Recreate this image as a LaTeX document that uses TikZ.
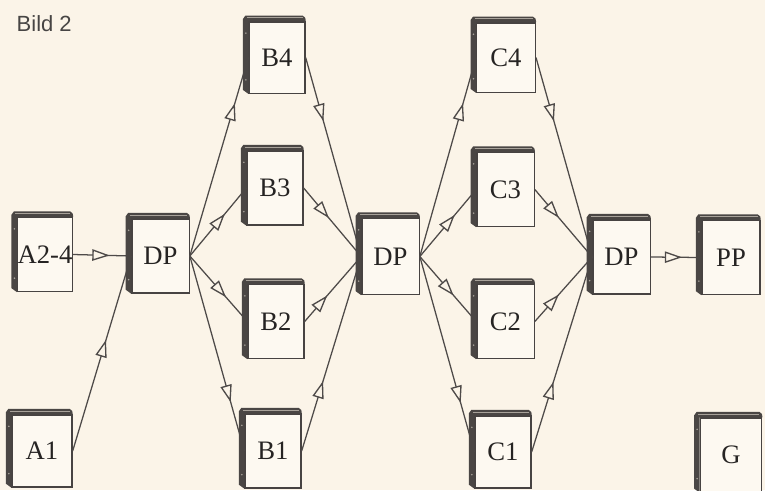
\documentclass[tikz,border=0pt]{standalone}
\usepackage{fontspec}
\setmainfont{Liberation Serif}
\newfontfamily\labelsans{Liberation Sans}
\usetikzlibrary{arrows.meta,decorations.markings,calc}
\definecolor{bgc}{HTML}{FBF4E8}
\definecolor{facec}{HTML}{FDF9F1}
\definecolor{edgec}{HTML}{474342}
\definecolor{spinec}{HTML}{4A4644}
\definecolor{linec}{HTML}{4E4A49}
\definecolor{textc}{HTML}{262423}
\definecolor{dotc}{HTML}{A8A29A}
\tikzset{
  tipA/.tip={Triangle[length=13pt,width=8.5pt,line width=1pt,fill=bgc,color=linec]},
  book/.style={draw=edgec, line width=1pt, fill=facec, inner sep=0pt,
    minimum width=42pt, minimum height=55.5pt, text=textc,
    font=\fontsize{20}{21}\selectfont},
  conn/.style={draw=linec, line width=0.95pt},
  flow/.style={postaction={decorate, decoration={markings,
    mark=at position #1 with {\arrow{tipA}}}}}
}
\begin{document}
\begin{tikzpicture}[x=0.75pt,y=-0.75pt]
\fill[bgc] (0,0) rectangle (765,490);
\useasboundingbox (0,0) rectangle (765,490);
\node[text=textc!85, font=\labelsans\fontsize{16.5}{18}\selectfont, anchor=base west] (title) at (12,31) {Bild 2};
% books
\node[book, minimum width=40.5pt] (a24) at (45,254.5) {A2-4};
\node[book, minimum width=45pt, minimum height=54pt] (a1) at (42,451) {A1};
\node[book, minimum width=43pt] (dp1) at (160.5,256) {DP};
\node[book, minimum height=53.5pt] (b4) at (277,57.5) {B4};
\node[book] (b3) at (275,188) {B3};
\node[book] (b2) at (276,321.5) {B2};
\node[book] (b1) at (273,451) {B1};
\node[book, minimum width=43pt, minimum height=57pt] (dp2) at (390.5,256.5) {DP};
\node[book, minimum width=44pt, minimum height=52pt] (c4) at (506,57.5) {C4};
\node[book, minimum width=43pt] (c3) at (505.5,189.5) {C3};
\node[book, minimum width=43pt] (c2) at (505.5,321.5) {C2};
\node[book, minimum height=54pt] (c1) at (503,452) {C1};
\node[book, minimum width=43pt] (dp3) at (621.5,257) {DP};
\node[book, minimum width=43.5pt] (pp) at (731,257.5) {PP};
\node[book, minimum width=46pt] (g) at (731,455) {G};
% connectors
\draw[conn, flow=0.63] (a24.east) -- (dp1.west);
\draw[conn, flow=0.57] (a1.east) -- (dp1.west);
\draw[conn, flow=0.77] (dp1.east) -- (b4.west);
\draw[conn, flow=0.62] (dp1.east) -- (b3.west);
\draw[conn, flow=0.63] (dp1.east) -- (b2.west);
\draw[conn, flow=0.75] (dp1.east) -- (b1.west);
\draw[conn, flow=0.32] (b4.east) -- (dp2.west);
\draw[conn, flow=0.44] (b3.east) -- (dp2.west);
\draw[conn, flow=0.40] (b2.east) -- (dp2.west);
\draw[conn, flow=0.36] (b1.east) -- (dp2.west);
\draw[conn, flow=0.77] (dp2.east) -- (c4.west);
\draw[conn, flow=0.62] (dp2.east) -- (c3.west);
\draw[conn, flow=0.60] (dp2.east) -- (c2.west);
\draw[conn, flow=0.75] (dp2.east) -- (c1.west);
\draw[conn, flow=0.32] (c4.east) -- (dp3.west);
\draw[conn, flow=0.42] (c3.east) -- (dp3.west);
\draw[conn, flow=0.42] (c2.east) -- (dp3.west);
\draw[conn, flow=0.36] (c1.east) -- (dp3.west);
\draw[conn, flow=0.62] (dp3.east) -- (pp.west);
% spines of the books
\foreach \n in {a24,a1,dp1,b4,b3,b2,b1,dp2,c4,c3,c2,c1,dp3,pp,g}{
  \fill[spinec] ($(\n.north west)+(-5.5,-2)$) -- ($(\n.north west)+(-3,-5.5)$)
    -- ($(\n.north east)+(-3,-5.5)$) -- ($(\n.north east)+(-0.5,-3.5)$)
    -- ($(\n.north east)+(0,-1)$) -- (\n.north east) -- (\n.north west)
    -- (\n.south west) -- ($(\n.south west)+(-5.5,-4)$) -- cycle;
  \draw[dotc, line width=0.4pt] ($(\n.north west)+(-1.5,-3.5)$) -- ($(\n.north east)+(-3,-3.5)$);
  \fill[dotc] ($(\n.north west)+(-2.5,12)$) circle (0.9);
  \fill[dotc] ($(\n.south west)+(-2.5,-14)$) circle (0.9);
}
\end{tikzpicture}
\end{document}
